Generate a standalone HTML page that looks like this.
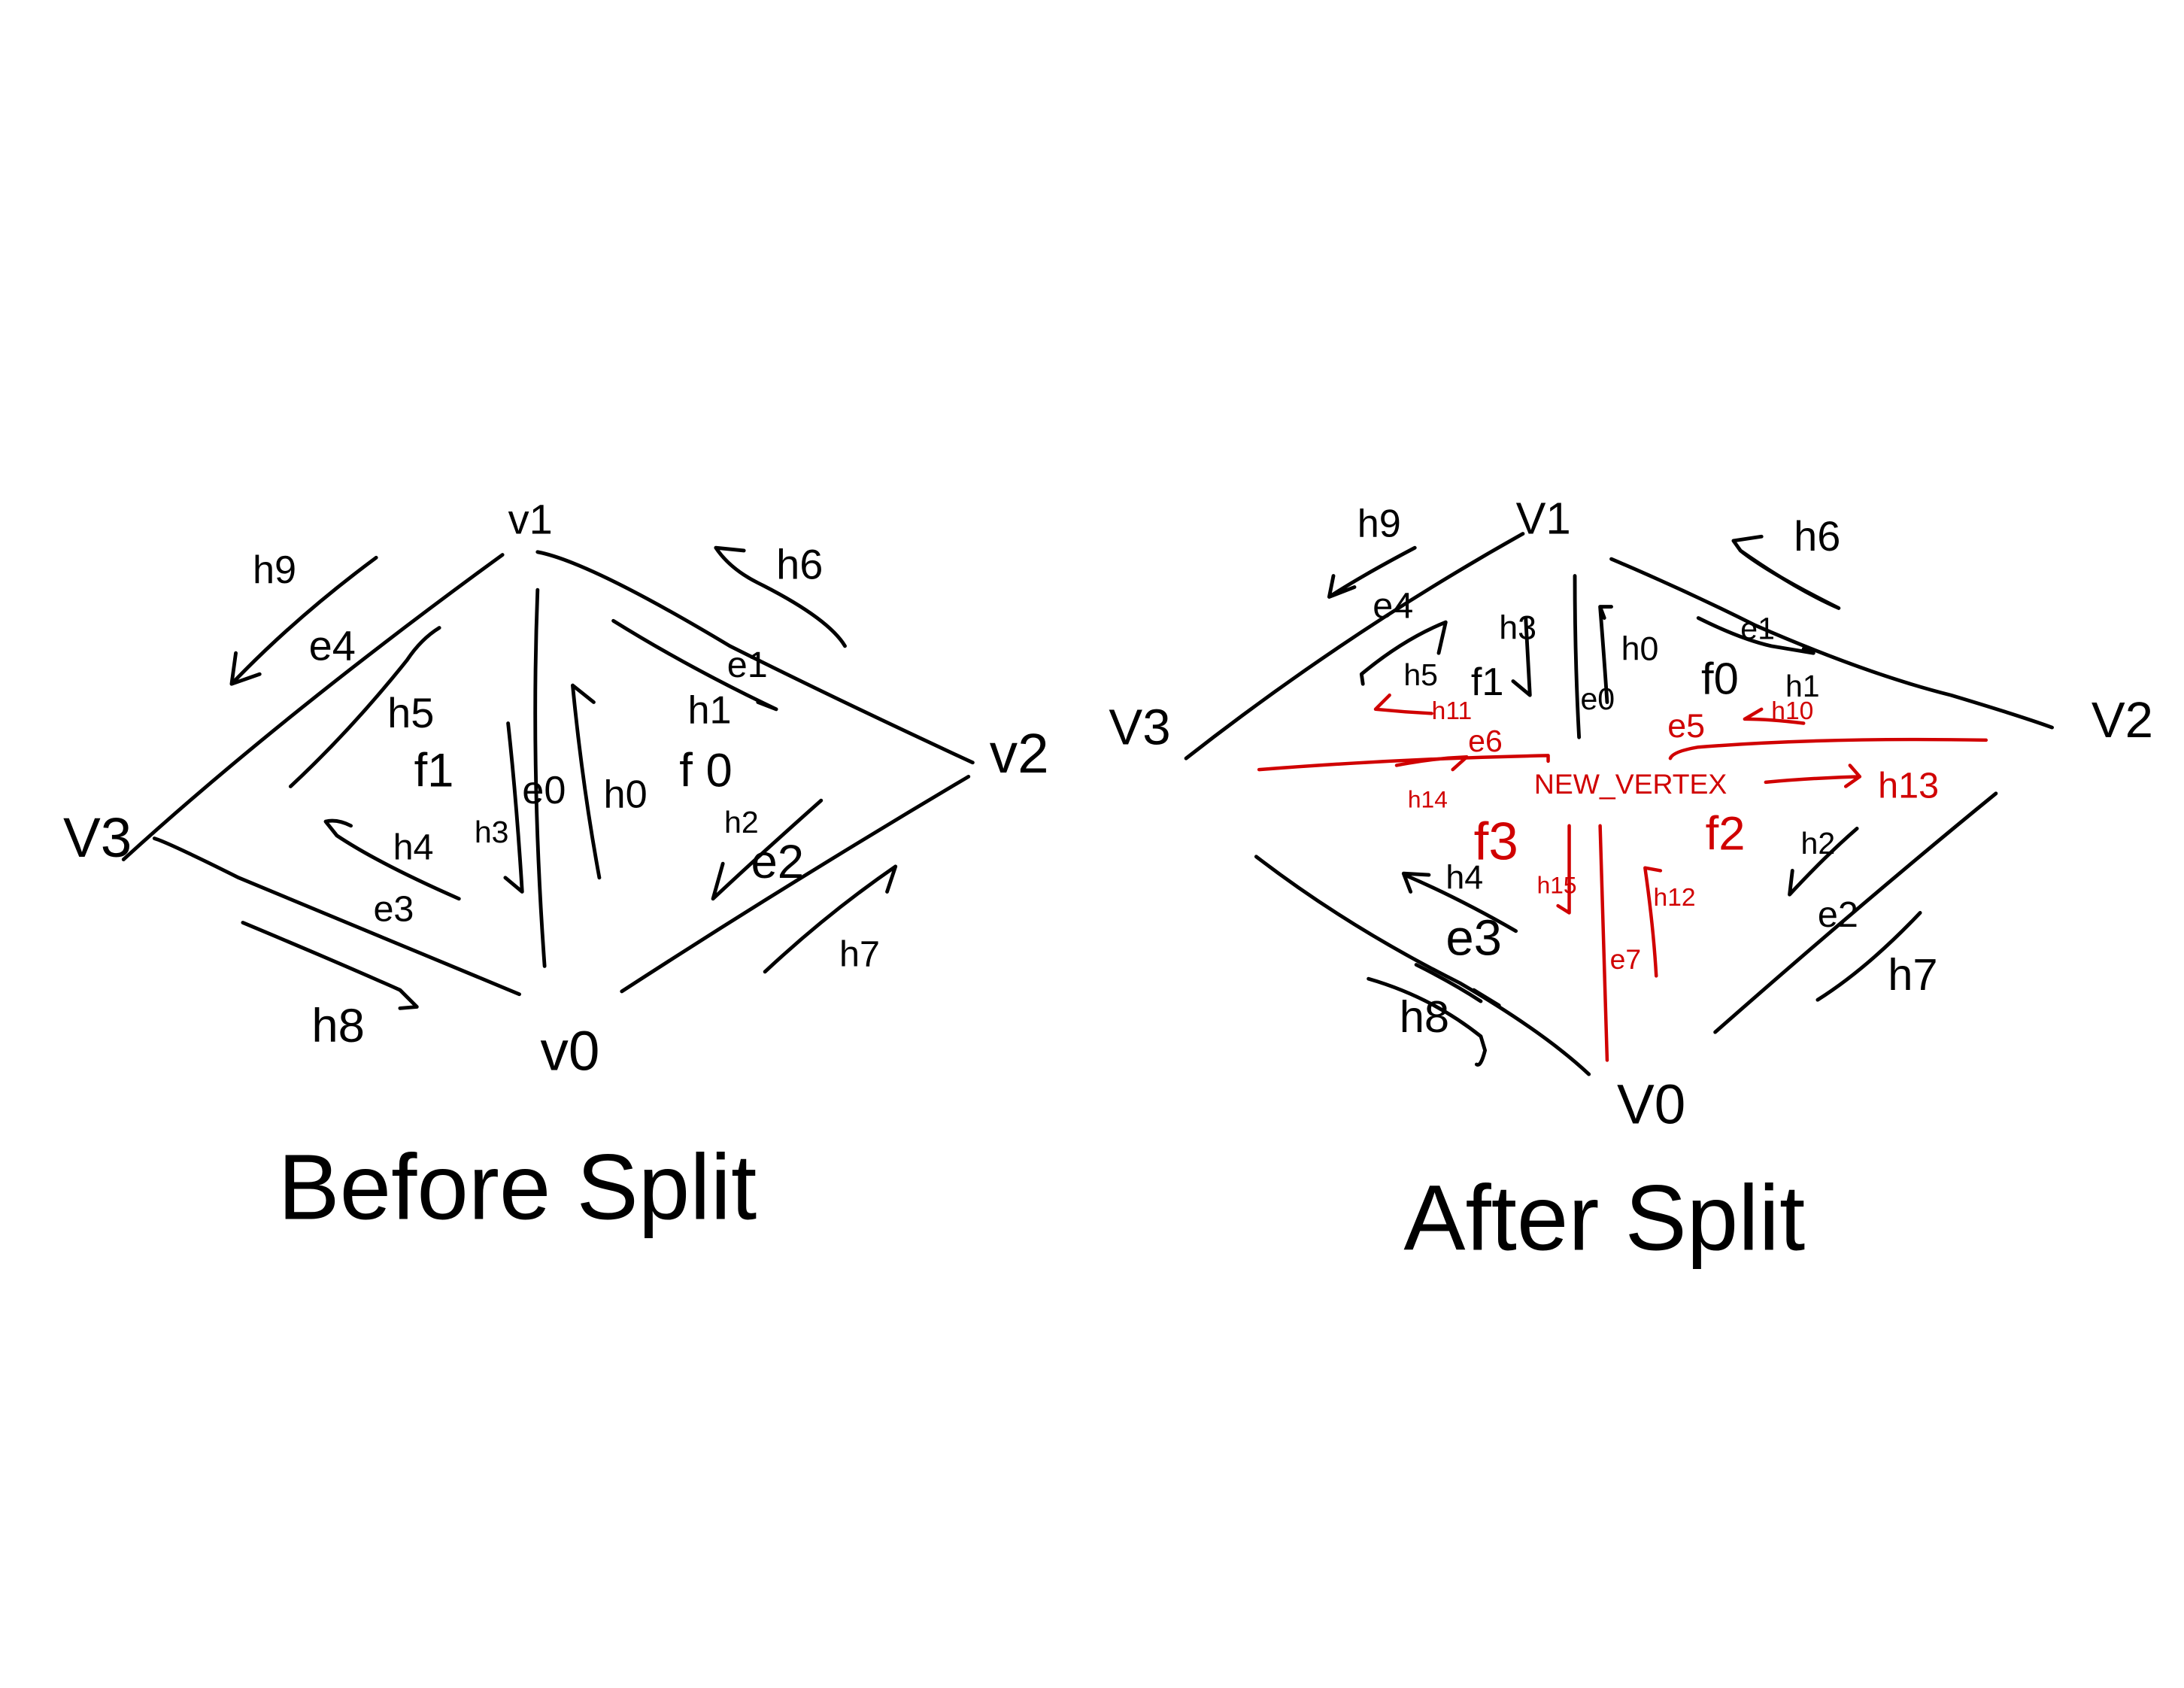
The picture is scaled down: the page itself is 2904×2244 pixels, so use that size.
<!DOCTYPE html>
<html><head><meta charset="utf-8"><style>
html,body{margin:0;padding:0;background:#fff;}
svg{display:block}
text{font-family:"Liberation Sans",sans-serif;}
</style></head><body>
<svg width="2904" height="2244" viewBox="0 0 1556 1202">
<g fill="none" stroke="#000" stroke-width="2.6" stroke-linecap="round" stroke-linejoin="round">
<path d="M88,612 Q200,510 358,395"/>
<path d="M383,393 Q420,400 520,460 Q600,500 693,543"/>
<path d="M690,553 Q560,630 443,706"/>
<path d="M370,708 Q230,650 170,625 Q120,600 110,597"/>
<path d="M383,420 Q378,550 388,688"/>
<path d="M268,397 Q210,440 165,487 M165,487 L168,465 M165,487 L185,480"/>
<path d="M313,447 Q300,455 290,470 Q250,520 207,560"/>
<path d="M327,640 Q270,615 240,595 L232,585 Q240,583 250,588"/>
<path d="M362,515 Q368,570 372,635 L360,625"/>
<path d="M423,500 L408,488 Q415,560 427,625"/>
<path d="M437,442 Q490,475 553,505 L540,500"/>
<path d="M585,570 Q540,610 508,640 L515,615"/>
<path d="M545,692 Q590,650 638,617 L632,635"/>
<path d="M173,657 Q240,685 285,705 L297,717 L285,718"/>
<path d="M602,460 Q590,440 540,415 Q520,405 510,390 L530,392"/>
</g>
<g fill="#000" font-size="30">
<text x="362" y="380">v1</text>
<text x="180" y="415" font-size="28">h9</text>
<text x="553" y="412">h6</text>
<text x="220" y="470">e4</text>
<text x="518" y="482" font-size="26">e1</text>
<text x="276" y="518">h5</text>
<text x="490" y="515" font-size="28">h1</text>
<text x="295" y="560" font-size="34">f1</text>
<text x="372" y="572" font-size="28">e0</text>
<text x="430" y="575" font-size="28">h0</text>
<text x="484" y="560" font-size="34">f 0</text>
<text x="705" y="550" font-size="40">v2</text>
<text x="45" y="610" font-size="40">V3</text>
<text x="280" y="612" font-size="26">h4</text>
<text x="338" y="600" font-size="22">h3</text>
<text x="516" y="593" font-size="22">h2</text>
<text x="535" y="625" font-size="34">e2</text>
<text x="266" y="656" font-size="26">e3</text>
<text x="598" y="688" font-size="26">h7</text>
<text x="222" y="742" font-size="34">h8</text>
<text x="385" y="762" font-size="40">v0</text>
<text x="198" y="868" font-size="66">Before  Split</text>
</g>
<g fill="none" stroke="#000" stroke-width="2.6" stroke-linecap="round" stroke-linejoin="round">
<path d="M845,540 Q960,450 1085,380"/>
<path d="M1148,398 Q1200,420 1250,445 Q1330,480 1390,495 Q1440,510 1462,518"/>
<path d="M1422,565 Q1330,640 1222,735"/>
<path d="M895,610 Q960,660 1040,700 Q1100,735 1132,765"/>
<path d="M1122,410 Q1122,470 1125,525"/>
<path d="M1008,390 Q970,410 947,425 L950,410 M947,425 L965,418"/>
<path d="M1030,443 Q1000,455 970,480 L971,487 M1030,443 L1025,465"/>
<path d="M1087,440 L1090,495 L1078,485"/>
<path d="M1143,440 L1140,432 L1148,432 M1140,432 Q1143,470 1145,500"/>
<path d="M1210,440 Q1240,455 1262,460 L1292,465 L1285,462"/>
<path d="M1310,433 Q1260,408 1240,392 L1235,385 L1255,382 M1240,392 Q1280,420 1310,433"/>
<path d="M1323,590 Q1300,610 1275,637 L1277,620"/>
<path d="M1368,650 Q1330,690 1295,712"/>
<path d="M1000,622 L1005,635 M1000,622 L1018,623 M1003,624 Q1040,640 1080,663"/>
<path d="M975,697 Q1020,710 1055,738 L1058,748 Q1055,760 1052,758"/>
<path d="M1009,687 Q1035,700 1055,713 M1050,705 L1068,716"/>
</g>
<g fill="#000">
<text x="967" y="382" font-size="28">h9</text>
<text x="1080" y="380" font-size="32">V1</text>
<text x="1278" y="392" font-size="30">h6</text>
<text x="978" y="440" font-size="26">e4</text>
<text x="1068" y="455" font-size="24">h3</text>
<text x="1155" y="470" font-size="24">h0</text>
<text x="1240" y="455" font-size="22">e1</text>
<text x="1000" y="488" font-size="22">h5</text>
<text x="1048" y="495" font-size="28">f1</text>
<text x="1126" y="505" font-size="22">e0</text>
<text x="1212" y="494" font-size="32">f0</text>
<text x="1272" y="496" font-size="22">h1</text>
<text x="790" y="530" font-size="36">V3</text>
<text x="1490" y="525" font-size="36">V2</text>
<text x="1283" y="608" font-size="22">h2</text>
<text x="1295" y="660" font-size="26">e2</text>
<text x="1030" y="633" font-size="24">h4</text>
<text x="1030" y="680" font-size="36">e3</text>
<text x="1345" y="705" font-size="32">h7</text>
<text x="997" y="735" font-size="32">h8</text>
<text x="1152" y="800" font-size="40">V0</text>
<text x="1000" y="890" font-size="66">After  Split</text>
</g>
<g fill="none" stroke="#d00000" stroke-width="2.4" stroke-linecap="round" stroke-linejoin="round">
<path d="M897,548 Q1000,540 1103,538 L1103,542"/>
<path d="M1190,540 Q1192,535 1210,532 Q1300,525 1415,527"/>
<path d="M1140,588 Q1143,680 1145,755"/>
<path d="M1118,588 L1118,650 L1110,645"/>
<path d="M1183,620 L1172,618 Q1178,660 1180,695"/>
<path d="M995,545 Q1020,540 1045,539 L1035,548"/>
<path d="M1020,508 Q1000,507 980,505 L990,495"/>
<path d="M1285,515 Q1260,512 1243,512 L1255,505"/>
<path d="M1258,557 Q1290,554 1325,553 L1315,560 M1325,553 L1318,545"/>
</g>
<g fill="#d00000">
<text x="1020" y="512" font-size="18">h11</text>
<text x="1046" y="535" font-size="22">e6</text>
<text x="1188" y="525" font-size="24">e5</text>
<text x="1262" y="512" font-size="18">h10</text>
<text x="1093" y="565" font-size="20">NEW_VERTEX</text>
<text x="1003" y="575" font-size="17">h14</text>
<text x="1338" y="568" font-size="26">h13</text>
<text x="1050" y="612" font-size="38">f3</text>
<text x="1215" y="605" font-size="34">f2</text>
<text x="1095" y="636" font-size="17">h15</text>
<text x="1178" y="645" font-size="18">h12</text>
<text x="1147" y="690" font-size="20">e7</text>
</g>
</svg>
</body></html>
